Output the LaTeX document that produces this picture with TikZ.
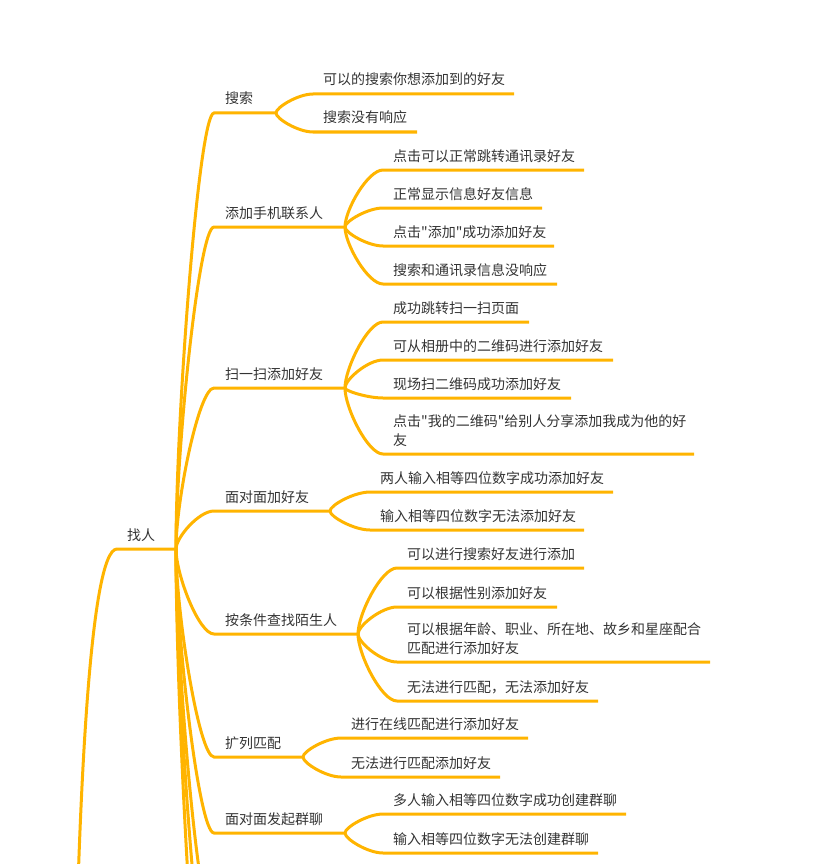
\documentclass[tikz,border=0pt]{standalone}
\usepackage{fontspec}
\newfontfamily\cjk{Noto Sans CJK SC}
\usetikzlibrary{calc}
\definecolor{br}{HTML}{FFB400}
\definecolor{tx}{HTML}{333333}
\begin{document}
\begin{tikzpicture}[x=1pt,y=-1pt,
  line/.style={draw=br,line width=3pt},
  txt/.style={anchor=base west,inner sep=0pt,text=tx,font=\cjk\fontsize{14}{19}\selectfont},
  branch/.style={to path={.. controls ($(\tikztostart)!0.3!(\tikztostart |- \tikztotarget)$) and ($(\tikztostart |- \tikztotarget)!0.6!(\tikztotarget)$) .. (\tikztotarget) \tikztonodes}}]
\path[use as bounding box] (0,0) rectangle (814,864);
\clip (0,0) rectangle (814,864);

% root
\coordinate (root) at (72,1250);
\coordinate (s0) at (117,549);
\coordinate (J) at (176,549);
\draw[line] (root) .. controls (74,800) and (90,549) .. (s0) -- (J);
\node[txt] (n0) at (127,540) {找人};

% level 2
\coordinate (sA) at (214,113); \coordinate (jA) at (276,113);
\coordinate (sB) at (214,227); \coordinate (jB) at (345,227);
\coordinate (sC) at (214,388); \coordinate (jC) at (345,388);
\coordinate (sD) at (214,511); \coordinate (jD) at (330,511);
\coordinate (sE) at (214,634); \coordinate (jE) at (358,634);
\coordinate (sF) at (214,757); \coordinate (jF) at (303,757);
\coordinate (sG) at (214,833); \coordinate (jG) at (345,833);
\coordinate (sH) at (214,930);
\coordinate (sI) at (214,1010);
\coordinate (sK) at (214,1120);
\foreach \s/\j in {sA/jA,sB/jB,sC/jC,sD/jD,sE/jE,sF/jF,sG/jG}
  \draw[line] (J) to[branch] (\s) -- (\j);
\foreach \s in {sH,sI,sK}
  \draw[line] (J) to[branch] (\s) -- ++(120,0);
\node[txt] (nA) at (225,104) {搜索};
\node[txt] (nB) at (225,218) {添加手机联系人};
\node[txt] (nC) at (225,379) {扫一扫添加好友};
\node[txt] (nD) at (225,502) {面对面加好友};
\node[txt] (nE) at (225,625) {按条件查找陌生人};
\node[txt] (nF) at (225,748) {扩列匹配};
\node[txt] (nG) at (225,824) {面对面发起群聊};

% 搜索
\coordinate (sA1) at (313,94);  \coordinate (eA1) at (514,94);
\coordinate (sA2) at (313,132); \coordinate (eA2) at (417,132);
\draw[line] (jA) to[branch] (sA1) -- (eA1);
\draw[line] (jA) to[branch] (sA2) -- (eA2);
\node[txt] (nA1) at (323,85) {可以的搜索你想添加到的好友};
\node[txt] (nA2) at (323,123) {搜索没有响应};

% 添加手机联系人
\coordinate (sB1) at (383,170); \coordinate (eB1) at (584,170);
\coordinate (sB2) at (383,208); \coordinate (eB2) at (542,208);
\coordinate (sB3) at (383,246); \coordinate (eB3) at (554,246);
\coordinate (sB4) at (383,284); \coordinate (eB4) at (557,284);
\foreach \s/\e in {sB1/eB1,sB2/eB2,sB3/eB3,sB4/eB4}
  \draw[line] (jB) to[branch] (\s) -- (\e);
\node[txt] (nB1) at (393,161) {点击可以正常跳转通讯录好友};
\node[txt] (nB2) at (393,199) {正常显示信息好友信息};
\node[txt] (nB3) at (393,237) {点击"添加"成功添加好友};
\node[txt] (nB4) at (393,275) {搜索和通讯录信息没响应};

% 扫一扫添加好友
\coordinate (sC1) at (383,322); \coordinate (eC1) at (529,322);
\coordinate (sC2) at (383,360); \coordinate (eC2) at (613,360);
\coordinate (sC3) at (383,398); \coordinate (eC3) at (571,398);
\coordinate (sC4) at (383,454); \coordinate (eC4) at (694,454);
\foreach \s/\e in {sC1/eC1,sC2/eC2,sC3/eC3,sC4/eC4}
  \draw[line] (jC) to[branch] (\s) -- (\e);
\node[txt] (nC1) at (393,313) {成功跳转扫一扫页面};
\node[txt] (nC2) at (393,351) {可从相册中的二维码进行添加好友};
\node[txt] (nC3) at (393,389) {现场扫二维码成功添加好友};
\node[txt] (nC4) at (393,426) {\begin{tabular}[t]{@{}l@{}}点击"我的二维码"给别人分享添加我成为他的好\\友\end{tabular}};

% 面对面加好友
\coordinate (sD1) at (370,492); \coordinate (eD1) at (613,492);
\coordinate (sD2) at (370,530); \coordinate (eD2) at (584,530);
\draw[line] (jD) to[branch] (sD1) -- (eD1);
\draw[line] (jD) to[branch] (sD2) -- (eD2);
\node[txt] (nD1) at (380,483) {两人输入相等四位数字成功添加好友};
\node[txt] (nD2) at (380,521) {输入相等四位数字无法添加好友};

% 按条件查找陌生人
\coordinate (sE1) at (397,568); \coordinate (eE1) at (584,568);
\coordinate (sE2) at (397,607); \coordinate (eE2) at (557,607);
\coordinate (sE3) at (397,662); \coordinate (eE3) at (710,662);
\coordinate (sE4) at (397,701); \coordinate (eE4) at (598,701);
\foreach \s/\e in {sE1/eE1,sE2/eE2,sE3/eE3,sE4/eE4}
  \draw[line] (jE) to[branch] (\s) -- (\e);
\node[txt] (nE1) at (407,559) {可以进行搜索好友进行添加};
\node[txt] (nE2) at (407,598) {可以根据性别添加好友};
\node[txt] (nE3) at (407,634) {\begin{tabular}[t]{@{}l@{}}可以根据年龄、职业、所在地、故乡和星座配合\\匹配进行添加好友\end{tabular}};
\node[txt] (nE4) at (407,692) {无法进行匹配，无法添加好友};

% 扩列匹配
\coordinate (sF1) at (341,738); \coordinate (eF1) at (528,738);
\coordinate (sF2) at (341,777); \coordinate (eF2) at (500,777);
\draw[line] (jF) to[branch] (sF1) -- (eF1);
\draw[line] (jF) to[branch] (sF2) -- (eF2);
\node[txt] (nF1) at (351,729) {进行在线匹配进行添加好友};
\node[txt] (nF2) at (351,768) {无法进行匹配添加好友};

% 面对面发起群聊
\coordinate (sG1) at (383,814); \coordinate (eG1) at (626,814);
\coordinate (sG2) at (383,853); \coordinate (eG2) at (598,853);
\draw[line] (jG) to[branch] (sG1) -- (eG1);
\draw[line] (jG) to[branch] (sG2) -- (eG2);
\node[txt] (nG1) at (393,805) {多人输入相等四位数字成功创建群聊};
\node[txt] (nG2) at (393,844) {输入相等四位数字无法创建群聊};
\end{tikzpicture}
\end{document}
